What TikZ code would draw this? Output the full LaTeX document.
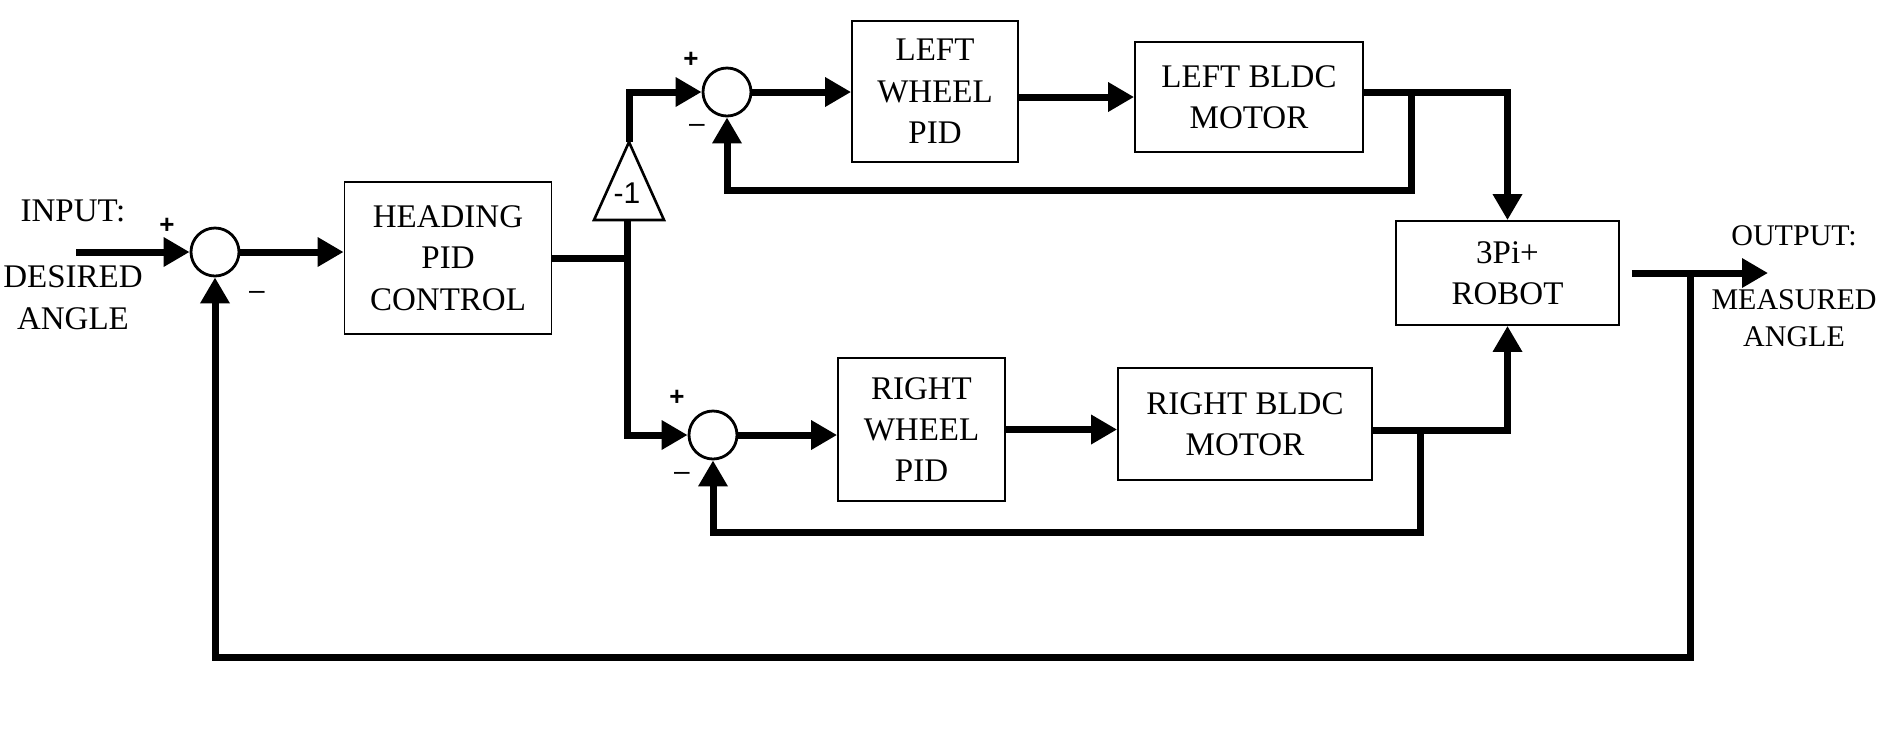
\documentclass[tikz,border=0pt]{standalone}
\usepackage{fontspec}
\setmainfont{Liberation Serif}
\setsansfont{Liberation Sans}
\usetikzlibrary{calc,positioning,arrows.meta}

\begin{document}
\begin{tikzpicture}[x=0.5pt,y=-0.5pt,
    block/.style={draw,line width=0.9pt,rectangle,align=center,inner sep=0pt,font=\fontsize{16.5}{20.7}\selectfont},
    sum/.style={circle,draw,line width=1.4pt,minimum size=24pt,inner sep=0pt},
    wire/.style={line width=3.5pt},
    flow/.style={wire,-{Triangle[length=13pt,width=14pt]}},
    signText/.style={inner sep=0pt,font=\sffamily\bfseries\fontsize{13}{13}\selectfont},
    minusText/.style={inner sep=0pt,font=\sffamily\fontsize{14}{14}\selectfont},
    portText/.style={align=center,inner sep=0pt,font=\fontsize{15}{20}\selectfont}
    ]

  \useasboundingbox (0,0) rectangle (1881,752);

  \node(sumMain) [sum] at (215,252) {};
  \node(heading) [block,minimum width=103.5pt,minimum height=76pt] at (448,258) {HEADING\\PID\\CONTROL};

  \coordinate(gainTip) at (629,142);
  \coordinate(gainBase) at (627,220);
  \draw[line width=1.3pt] (594,220) -- (gainTip) -- (664,220) -- cycle;
  \node(gain) [font=\sffamily\fontsize{15}{15}\selectfont] at (627,193) {-1};

  \node(sumLeft) [sum] at (727,92) {};
  \node(leftPid) [block,minimum width=83pt,minimum height=70.5pt] at (935,91.5) {LEFT\\WHEEL\\PID};
  \node(leftMotor) [block,minimum width=114pt,minimum height=55pt] at (1249,97) {LEFT BLDC\\MOTOR};

  \node(sumRight) [sum] at (713,435) {};
  \node(rightPid) [block,minimum width=83.5pt,minimum height=71.5pt] at (921.5,429.5) {RIGHT\\WHEEL\\PID};
  \node(rightMotor) [block,minimum width=127pt,minimum height=56pt] at (1245,424) {RIGHT BLDC\\MOTOR};

  \node(robot) [block,minimum width=111.5pt,minimum height=52pt] at (1507.5,273) {3Pi+\\ROBOT};

  \coordinate(input) at (76,252);
  \coordinate(output) at (1768,273);
  \coordinate(leftTap) at (1411,92);
  \coordinate(rightTap) at (1420,430);
  \coordinate(outTap) at (1690,273);

  \draw[flow] (input) -- (sumMain.west);
  \draw[flow] (sumMain.east) -- (sumMain.east -| heading.west);
  \draw[wire] (heading.east) -- (heading.east -| gainBase);
  \draw[flow] (gainBase) |- (sumRight.west);
  \draw[flow] (gainTip) |- (sumLeft.west);

  \draw[flow] (sumLeft.east) -- (sumLeft.east -| leftPid.west);
  \draw[flow] (leftPid.east |- leftMotor.west) -- (leftMotor.west);
  \draw[flow] (leftMotor.east |- leftTap) -| (robot.north);
  \draw[flow] (leftTap) -- ++(0,98) -| (sumLeft.south);

  \draw[flow] (sumRight.east) -- (sumRight.east -| rightPid.west);
  \draw[flow] (rightPid.east) -- (rightPid.east -| rightMotor.west);
  \draw[flow] (rightMotor.east |- rightTap) -| (robot.south);
  \draw[flow] (rightTap) -- ++(0,102) -| (sumRight.south);

  \draw[flow] ([xshift=6pt]robot.east) -- (output);
  \draw[flow] (outTap) -- ++(0,384) -| (sumMain.south);

  \node(inputName) [portText,font=\fontsize{16.5}{20}\selectfont] at (73,211) {INPUT:};
  \node(inputAngle) [portText,font=\fontsize{16.5}{21}\selectfont] at (73,298) {DESIRED\\ANGLE};
  \node(outputName) [portText] at (1794,236) {OUTPUT:};
  \node(outputAngle) [portText,font=\fontsize{15}{18.6}\selectfont] at (1794,318) {MEASURED\\ANGLE};

  \node(plusMain) [signText] at (167,226) {+};
  \node(minusMain) [minusText] at (257,295) {–};
  \node(plusLeft) [signText] at (691,60) {+};
  \node(minusLeft) [minusText] at (697,128) {–};
  \node(plusRight) [signText] at (677,398) {+};
  \node(minusRight) [minusText] at (682,476) {–};

\end{tikzpicture}
\end{document}
